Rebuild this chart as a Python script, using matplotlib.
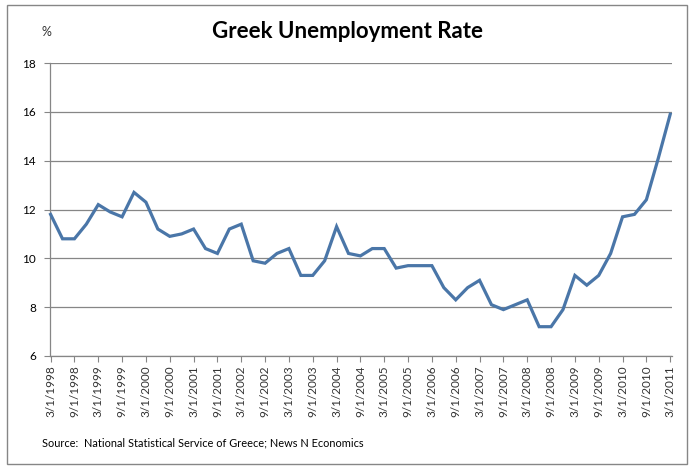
import matplotlib
matplotlib.use("Agg")
import matplotlib.pyplot as plt
from matplotlib.patches import Rectangle

# quarterly readings, 3/1/1998 .. 3/1/2011
quarters = [f"{m}/1/{y}" for y in range(1998, 2012) for m in (3, 6, 9, 12)][:53]
rate = [11.8, 10.8, 10.8, 11.4, 12.2, 11.9, 11.7, 12.7, 12.3, 11.2,
        10.9, 11.0, 11.2, 10.4, 10.2, 11.2, 11.4, 9.9, 9.8, 10.2,
        10.4, 9.3, 9.3, 9.9, 11.3, 10.2, 10.1, 10.4, 10.4, 9.6,
        9.7, 9.7, 9.7, 8.8, 8.3, 8.8, 9.1, 8.1, 7.9, 8.1,
        8.3, 7.2, 7.2, 7.9, 9.3, 8.9, 9.3, 10.2, 11.7, 11.8,
        12.4, 14.1, 15.9]
yticks = [6, 8, 10, 12, 14, 16, 18]

FONT = "Lato"
GRAY = "#868686"

W, H = 697, 476
fig = plt.figure(figsize=(W / 100, H / 100), dpi=100)
ax = fig.add_axes([50 / W, 1 - 356 / H, 622 / W, 293 / H])

x = list(range(len(rate)))
ax.plot(x, rate, color="#4A76A8", lw=2.3, solid_joinstyle="miter",
        clip_on=False, zorder=3)

ax.set_xlim(-0.05, len(rate) - 1 + 0.15)
ax.set_ylim(6, 18)
ax.set_yticks(yticks)
ax.set_yticklabels([str(v) for v in yticks], fontfamily=FONT, fontsize=8.5)
ax.yaxis.grid(True, color=GRAY, lw=0.9)
ax.set_axisbelow(True)

ax.set_xticks(x[::2])
ax.set_xticklabels(quarters[::2], rotation=90, fontfamily=FONT,
                   fontsize=8.5, color="#333333")
ax.tick_params(axis="x", length=4, color=GRAY, pad=3)
ax.tick_params(axis="y", length=4, color=GRAY, pad=6)

for side in ("top", "right"):
    ax.spines[side].set_visible(False)
for side in ("left", "bottom"):
    ax.spines[side].set_color(GRAY)
    ax.spines[side].set_linewidth(0.9)

fig.text(347 / W, 1 - 32 / H, "Greek Unemployment Rate", ha="center",
         va="center", fontfamily=FONT, fontweight="bold", fontsize=16)
fig.text(46 / W, 1 - 32 / H, "%", ha="center", va="center",
         fontfamily=FONT, fontsize=9, color="#333333")
fig.text(42 / W, 1 - 443 / H,
         "Source:  National Statistical Service of Greece; News N Economics",
         ha="left", va="center", fontfamily=FONT, fontsize=7.9)

fig.patches.append(Rectangle((7 / W, 1 - 464 / H), 680 / W, 459 / H,
                             transform=fig.transFigure, fill=False,
                             edgecolor=GRAY, lw=1))

fig.savefig("out.png", dpi=100)
